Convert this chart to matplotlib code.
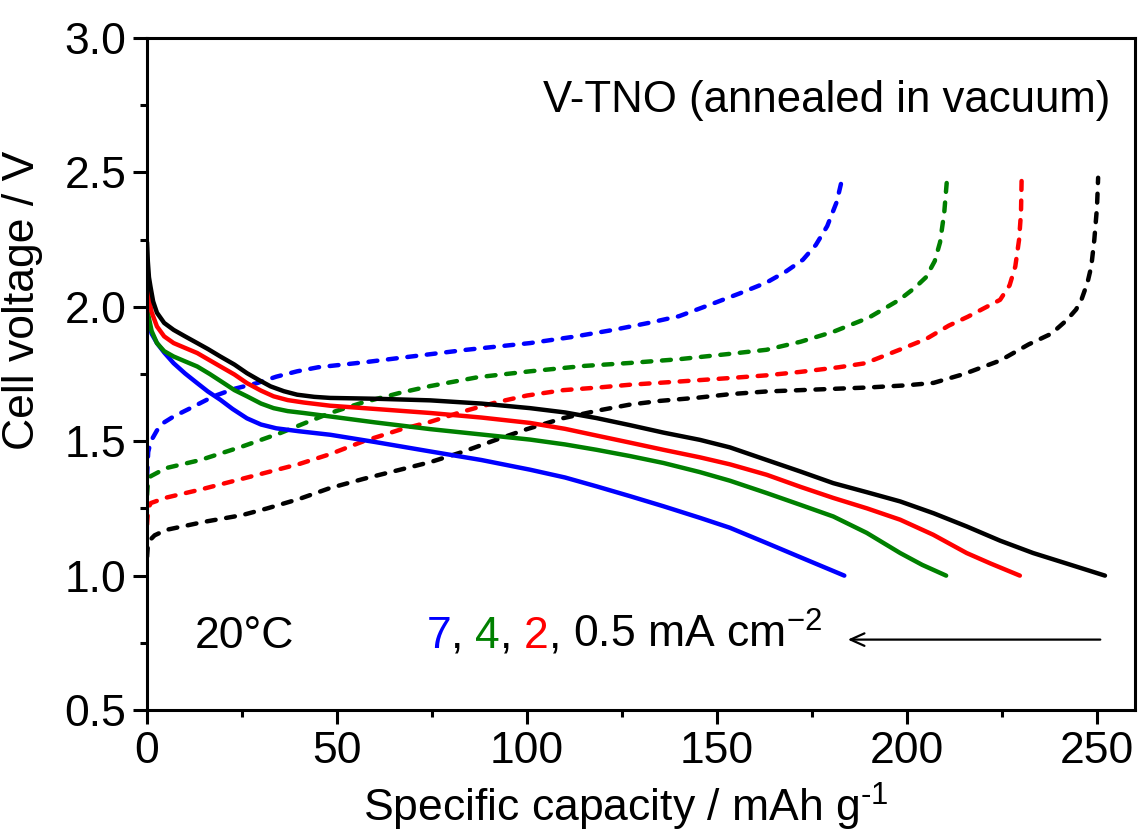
import matplotlib
matplotlib.use("Agg")
import matplotlib.pyplot as plt

plt.rcParams['font.family'] = ['Liberation Sans', 'DejaVu Sans']
plt.rcParams['mathtext.fontset'] = 'custom'
plt.rcParams['mathtext.rm'] = 'Liberation Sans'
plt.rcParams['mathtext.it'] = 'Liberation Sans:italic'
plt.rcParams['mathtext.bf'] = 'Liberation Sans:bold'

# ---- discharge (solid) ----
blk_dis_x = [0, 0.2, 0.5, 0.9, 1.6, 2.6, 4.5, 7, 10, 13.2, 16, 19.3, 23, 26.3, 29.5, 32.5, 36, 39.5, 44, 48.2, 60, 74.5, 88, 100.8, 110, 118.3, 127, 135.9, 145.5, 153.4, 163.1, 172, 180.6, 189.5, 198.2, 207, 215.7, 224.5, 233.2, 242, 252.1]
blk_dis_y = [2.24, 2.17, 2.11, 2.075, 2.02, 1.978, 1.94, 1.914, 1.89, 1.865, 1.843, 1.815, 1.785, 1.753, 1.727, 1.704, 1.686, 1.673, 1.665, 1.661, 1.658, 1.652, 1.64, 1.623, 1.607, 1.586, 1.56, 1.532, 1.505, 1.477, 1.43, 1.387, 1.344, 1.31, 1.276, 1.232, 1.183, 1.13, 1.084, 1.045, 1.0]

red_dis_x = [0, 0.4, 1.2, 2.6, 4.5, 7, 10, 13.2, 16, 19.3, 23, 26.3, 30, 33.3, 37, 41.2, 48.2, 60, 74.5, 88, 100.8, 110, 118.3, 127, 135.9, 145.5, 153.4, 163.1, 172, 180.6, 189.5, 198.2, 206.9, 215.7, 222, 229.7]
red_dis_y = [2.07, 2.038, 1.98, 1.927, 1.89, 1.865, 1.847, 1.828, 1.805, 1.778, 1.748, 1.716, 1.688, 1.667, 1.653, 1.644, 1.632, 1.62, 1.605, 1.588, 1.568, 1.546, 1.521, 1.495, 1.468, 1.44, 1.414, 1.375, 1.33, 1.289, 1.25, 1.208, 1.152, 1.084, 1.045, 1.0]

grn_dis_x = [0, 0.4, 1.2, 2.6, 4.5, 7, 10, 13.2, 16.5, 20.2, 23, 26.3, 30, 33.3, 37, 41.2, 48.2, 60, 74.5, 88, 100.8, 110, 118.3, 127, 135.9, 145.5, 153.4, 163.1, 172, 180.6, 189.4, 198.2, 204, 210.3]
grn_dis_y = [1.99, 1.964, 1.91, 1.865, 1.835, 1.815, 1.797, 1.778, 1.75, 1.716, 1.69, 1.667, 1.64, 1.623, 1.612, 1.605, 1.592, 1.57, 1.545, 1.525, 1.506, 1.488, 1.468, 1.445, 1.419, 1.385, 1.353, 1.307, 1.263, 1.22, 1.159, 1.084, 1.04, 1.0]

blu_dis_x = [0, 0.4, 1.2, 2.6, 4.5, 7, 10, 13.2, 16, 19.3, 22.5, 26.3, 30, 34, 40, 48.2, 60, 74.5, 88, 100.8, 110, 118.3, 127, 135.9, 145.5, 153.4, 163.1, 172, 183.5]
blu_dis_y = [1.98, 1.94, 1.90, 1.865, 1.83, 1.79, 1.752, 1.716, 1.685, 1.654, 1.62, 1.585, 1.562, 1.548, 1.537, 1.524, 1.497, 1.462, 1.43, 1.394, 1.365, 1.332, 1.296, 1.258, 1.215, 1.178, 1.121, 1.068, 1.0]

# ---- charge (dashed) ----
blk_chg_x = [0, 0.2, 0.6, 2, 5, 15, 25, 31.6, 40, 48.2, 57, 66.6, 74.5, 83, 92, 100, 109.6, 119, 127, 135, 145, 153.4, 163, 172, 190, 200, 207, 215, 224.5, 232, 238, 242, 244.5, 246, 247.5, 248.5, 249.3, 250, 250.3]
blk_chg_y = [1.07, 1.11, 1.13, 1.15, 1.17, 1.20, 1.225, 1.25, 1.285, 1.326, 1.36, 1.394, 1.422, 1.46, 1.506, 1.545, 1.586, 1.615, 1.636, 1.65, 1.662, 1.675, 1.685, 1.69, 1.70, 1.708, 1.717, 1.75, 1.80, 1.86, 1.90, 1.95, 1.99, 2.03, 2.09, 2.15, 2.25, 2.37, 2.48]

red_chg_x = [0, 0.3, 1, 5, 14, 25, 40, 48.2, 57, 66.6, 74.5, 83, 92, 100, 109.6, 119, 127, 140, 153.4, 163, 172, 182, 189, 198, 205, 211, 216, 221, 224.5, 227, 228.5, 229.5, 230, 230.2]
red_chg_y = [1.19, 1.25, 1.27, 1.29, 1.32, 1.36, 1.415, 1.452, 1.50, 1.543, 1.572, 1.61, 1.645, 1.67, 1.69, 1.70, 1.71, 1.722, 1.735, 1.745, 1.758, 1.775, 1.79, 1.84, 1.88, 1.93, 1.963, 2.0, 2.026, 2.08, 2.15, 2.25, 2.35, 2.50]

grn_chg_x = [0, 0.3, 1, 5, 14, 25, 35, 42, 48.2, 57, 66.6, 74.5, 87, 100.8, 115, 127, 140, 153.4, 163, 172, 180.6, 190, 198, 202, 205, 207.3, 208.7, 209.8, 210.5]
grn_chg_y = [1.30, 1.36, 1.37, 1.40, 1.43, 1.48, 1.53, 1.57, 1.605, 1.645, 1.68, 1.705, 1.738, 1.76, 1.78, 1.791, 1.805, 1.825, 1.84, 1.87, 1.907, 1.96, 2.026, 2.07, 2.11, 2.17, 2.24, 2.35, 2.47]

blu_chg_x = [0, 0.3, 1, 2.6, 4.5, 7, 11, 17.5, 23, 28.9, 34, 39.5, 45, 50.9, 58, 66.6, 84, 100.8, 112, 122.7, 132, 140, 148, 156, 163, 168, 172.6, 176, 179, 181.5, 183]
blu_chg_y = [1.37, 1.46, 1.50, 1.54, 1.57, 1.592, 1.62, 1.667, 1.695, 1.716, 1.74, 1.76, 1.775, 1.784, 1.795, 1.81, 1.84, 1.865, 1.888, 1.914, 1.94, 1.965, 2.007, 2.05, 2.09, 2.13, 2.175, 2.23, 2.30, 2.39, 2.48]

x_ticks = [0, 50, 100, 150, 200, 250]
x_minor = [25, 75, 125, 175, 225]
y_ticks = [0.5, 1.0, 1.5, 2.0, 2.5, 3.0]
y_minor = [0.75, 1.25, 1.75, 2.25, 2.75]

fig = plt.figure(figsize=(11.4, 8.38), dpi=100)
ax = fig.add_axes([0.129, 0.1527, 0.8666, 0.802])

lw = 3.2
dash = (0, (2.0, 2.4))
series = [
    (blu_dis_x, blu_dis_y, blu_chg_x, blu_chg_y, '#0000ff'),
    (grn_dis_x, grn_dis_y, grn_chg_x, grn_chg_y, '#008000'),
    (red_dis_x, red_dis_y, red_chg_x, red_chg_y, '#ff0000'),
    (blk_dis_x, blk_dis_y, blk_chg_x, blk_chg_y, '#000000'),
]
for dx, dy, cx, cy, c in series:
    ax.plot(cx, cy, color=c, lw=lw, ls=dash, dash_capstyle='round')
for dx, dy, cx, cy, c in series:
    ax.plot(dx, dy, color=c, lw=lw, solid_capstyle='round', solid_joinstyle='round')

ax.set_xlim(0, 260)
ax.set_ylim(0.5, 3.0)
ax.set_xticks(x_ticks)
ax.set_yticks(y_ticks)
ax.set_xticks(x_minor, minor=True)
ax.set_yticks(y_minor, minor=True)
ax.set_yticklabels([f"{v:.1f}" for v in y_ticks])
ax.tick_params(which='major', direction='out', length=10, width=2.2, labelsize=32, pad=5)
ax.tick_params(which='minor', direction='out', length=5, width=2.2)
for s in ax.spines.values():
    s.set_linewidth(2.2)

ax.set_xlabel(r"Specific capacity / mAh g$^{\text{-}1}$", fontsize=32)
ax.set_ylabel("Cell voltage / V", fontsize=32)
ax.yaxis.set_label_coords(-0.105, 0.609)
ax.xaxis.set_label_coords(0.485, -0.106)

ax.text(0.975, 0.89, "V-TNO (annealed in vacuum)", transform=ax.transAxes,
        ha='right', va='baseline', fontsize=31.5)
ax.text(12.6, 0.732, "20°C", ha='left', va='baseline', fontsize=32)

pieces = [("7", '#0000ff', 0), (",", 'k', 0), ("4", '#008000', 8.5), (",", 'k', 0),
          ("2", '#ff0000', 8.5), (",", 'k', 0), ("0.5 mA cm$^{\u22122}$", 'k', 8.5)]
prev = None
for s, c, off in pieces:
    if prev is None:
        prev = ax.text(73.5, 0.732, s, color=c, ha='left', va='baseline', fontsize=32)
    else:
        prev = ax.annotate(s, xy=(1, 0.732), xycoords=(prev, 'data'),
                           xytext=(off, 0), textcoords='offset points',
                           color=c, ha='left', va='baseline', fontsize=32)

ax.annotate("", xy=(183.7, 0.762), xytext=(251.6, 0.762),
            arrowprops=dict(arrowstyle='->,head_length=1.0,head_width=0.45', lw=1.6, color='k'))

fig.savefig("out.png", dpi=100)
